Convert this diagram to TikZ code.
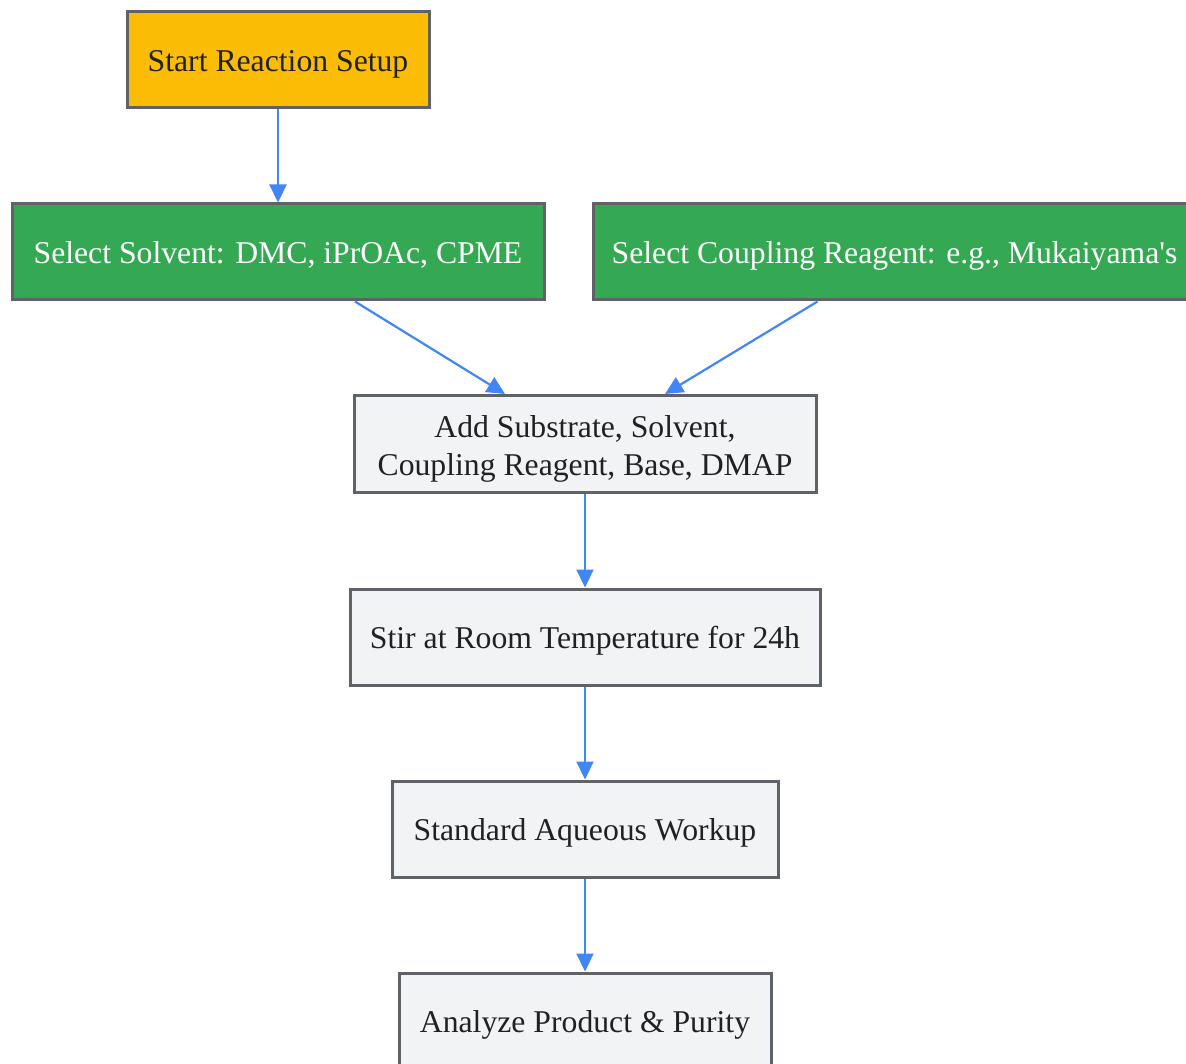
\documentclass[tikz,border=0pt]{standalone}
\usepackage{fontspec}
\setmainfont{Liberation Serif}
\usetikzlibrary{arrows.meta}

\definecolor{startyellow}{HTML}{FBBC05}
\definecolor{choicegreen}{HTML}{34A853}
\definecolor{stepgray}{HTML}{F1F3F4}
\definecolor{framegray}{HTML}{5F6368}
\definecolor{flowblue}{HTML}{4285F4}
\definecolor{inkdark}{HTML}{202124}

\begin{document}
\begin{tikzpicture}[x=1pt,y=-1pt]

        \useasboundingbox (0,0) rectangle (1186,1064);
        \clip (0,0) rectangle (1186,1064);

        \begin{scope}[every node/.style={rectangle,draw=framegray,line width=3pt,inner sep=0pt,
            minimum height=96pt,text=inkdark,align=center,text height=28pt,text depth=4.6pt,
            font=\fontsize{31.7}{38}\selectfont}]
          \node[fill=startyellow,minimum width=302pt] (start)   at (278,60)    {Start Reaction Setup};
          \node[fill=choicegreen,text=white,minimum width=532pt] (solvent) at (278,252) {Select Solvent: DMC, iPrOAc, CPME};
          \node[fill=choicegreen,text=white,minimum width=603pt] (reagent) at (894.5,252) {Select Coupling Reagent: e.g., Mukaiyama\textquotesingle s};
          \node[fill=stepgray,minimum width=462pt,minimum height=97pt,text height=68pt,text depth=6pt] (add) at (585,444) {Add Substrate, Solvent,\\Coupling Reagent, Base, DMAP};
          \node[fill=stepgray,minimum width=470pt] (stir)    at (585,637)  {Stir at Room Temperature for 24h};
          \node[fill=stepgray,minimum width=386pt] (workup)  at (585,829)  {Standard Aqueous Workup};
          \node[fill=stepgray,minimum width=372pt] (analyze) at (585,1021) {Analyze Product \& Purity};
        \end{scope}

        \begin{scope}[every edge/.style={draw=flowblue,line width=2.2pt,-{Triangle[length=18pt,width=17pt]}}]
          \path (start)   edge (solvent);
          \path ([xshift=77pt]solvent.south) edge ([xshift=-80pt]add.north);
          \path ([xshift=-77pt]reagent.south) edge ([xshift=80pt]add.north);
          \path (add)     edge (stir);
          \path (stir)    edge (workup);
          \path (workup)  edge (analyze);
        \end{scope}

      \end{tikzpicture}
\end{document}
